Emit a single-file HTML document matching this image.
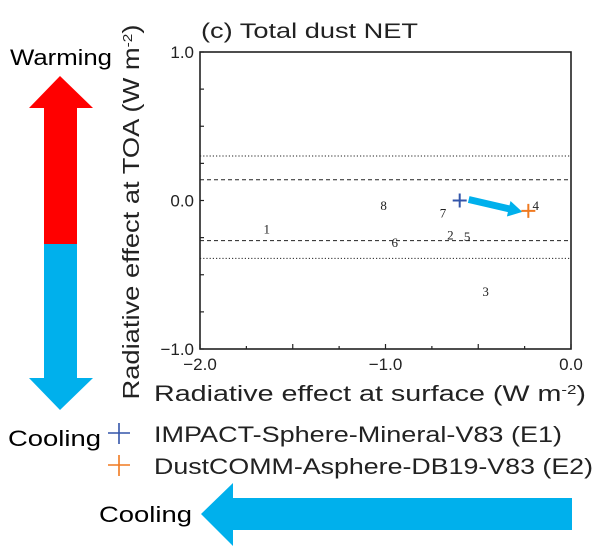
<!DOCTYPE html>
<html><head><meta charset="utf-8"><style>
body{margin:0;background:#fff;}
svg{display:block;font-family:"Liberation Sans",sans-serif;}
.num{font-family:"Liberation Serif",serif;font-size:13px;fill:#222;}
</style></head><body>
<svg width="600" height="552" viewBox="0 0 600 552">
<text x="10" y="65" font-size="22" textLength="102" lengthAdjust="spacingAndGlyphs" fill="#000">Warming</text>
<polygon points="60,76 93,108 77,108 77,244 44,244 44,108 29,108" fill="#ff0000"/>
<polygon points="44,244 77,244 77,378 93,378 60,410 29,378 44,378" fill="#00b0ec"/>
<text x="8" y="446" font-size="22" textLength="93" lengthAdjust="spacingAndGlyphs" fill="#000">Cooling</text>
<polygon points="201,514 233,483 233,498 572,498 572,530 233,530 233,546" fill="#00b0ec"/>
<text x="99" y="522" font-size="22" textLength="93" lengthAdjust="spacingAndGlyphs" fill="#000">Cooling</text>
<text x="201" y="38" font-size="21" textLength="217" lengthAdjust="spacingAndGlyphs" fill="#222">(c) Total dust NET</text>
<text transform="translate(139,212) rotate(-90)" font-size="23" text-anchor="middle" textLength="375" lengthAdjust="spacingAndGlyphs" fill="#222">Radiative effect at TOA (W m<tspan baseline-shift="super" font-size="13">-2</tspan>)</text>
<text x="154" y="401" font-size="22" textLength="432" lengthAdjust="spacingAndGlyphs" fill="#222">Radiative effect at surface (W m<tspan baseline-shift="super" font-size="13">-2</tspan>)</text>
<g id="plot"></g>
<path d="M108,433H130M119,423V444" stroke="#3355aa" stroke-width="1.6" fill="none"/>
<text x="154" y="442" font-size="22" textLength="408" lengthAdjust="spacingAndGlyphs" fill="#222">IMPACT-Sphere-Mineral-V83 (E1)</text>
<path d="M108,465H130M119,455V476" stroke="#f07a20" stroke-width="1.6" fill="none"/>
<text x="154" y="474" font-size="22" textLength="439" lengthAdjust="spacingAndGlyphs" fill="#222">DustCOMM-Asphere-DB19-V83 (E2)</text>
</svg>
<script>
const modelLabels=["1","2","3","4","5","6","7","8"];
const modelX=[-1.64,-0.65,-0.46,-0.19,-0.56,-0.95,-0.69,-1.01];
const modelY=[-0.19,-0.23,-0.61,-0.03,-0.24,-0.28,-0.08,-0.03];
const expNames=["E1","E2"];
const expX=[-0.6,-0.23];
const expY=[0.0,-0.07];
const refLevels=[0.30,0.14,-0.27,-0.39];
const refStyles=["dot","dash","dash","dot"];
const xTicks=[-2.0,-1.0,0.0];
const xTickLabels=["\u22122.0","\u22121.0","0.0"];
const yTicks=[1.0,0.0,-1.0];
const yTickLabels=["1.0","0.0","\u22121.0"];
const L=200,R=571,T=52,B=349;
const sx=v=>L+(v+2)/2*(R-L);
const sy=v=>B-(v+1)/2*(B-T);
const NS="http://www.w3.org/2000/svg";
const g=document.getElementById('plot');
function mk(t,a){const e=document.createElementNS(NS,t);for(const k in a)e.setAttribute(k,a[k]);g.appendChild(e);return e;}
refLevels.forEach((v,i)=>{
 const l=mk('line',{x1:L,x2:R,y1:sy(v),y2:sy(v),stroke:'#222','stroke-width':1,'stroke-dasharray':refStyles[i]==='dot'?'1.2,2':'4,3'});
 
 
});
for(let k=0;k<=8;k++){
 const v=-1+k*0.25;
 const t=mk('line',{x1:L,x2:L+4,y1:sy(v),y2:sy(v),stroke:'#222','stroke-width':1.2});
 
 
 const xv=-2+k*0.25;
 const t2=mk('line',{x1:sx(xv),x2:sx(xv),y1:B,y2:B-(k%2?3:5),stroke:'#222','stroke-width':1.2});
 
 
}
const ax=mk('rect',{x:L,y:T,width:R-L,height:B-T,fill:'none',stroke:'#222','stroke-width':1.6});


xTicks.forEach((v,i)=>{const t=mk('text',{x:sx(v),y:B+21,'font-size':17,'text-anchor':'middle',fill:'#222'});t.textContent=xTickLabels[i];
 
 });
yTicks.forEach((v,i)=>{const t=mk('text',{x:L-6,y:sy(v)+6,'font-size':17,'text-anchor':'end',fill:'#222'});t.textContent=yTickLabels[i];
 
 });
modelLabels.forEach((s,i)=>{const t=mk('text',{x:sx(modelX[i]),y:sy(modelY[i])+5,'text-anchor':'middle',class:'num'});t.textContent=s;
 
 });
const x1=sx(expX[0])+9,y1=sy(expY[0])-1,x2=sx(expX[1])-6,y2=sy(expY[1])+1;
const dx=x2-x1,dy=y2-y1,len=Math.hypot(dx,dy),ux=dx/len,uy=dy/len,px=-uy,py=ux;
const hb=len-14;
const pts=[[0,-3.5],[hb,-3.5],[hb,-8],[len,0],[hb,8],[hb,3.5],[0,3.5]].map(([a,b])=>(x1+ux*a+px*b)+','+(y1+uy*a+py*b)).join(' ');
const ar=mk('polygon',{points:pts,fill:'#00b0ec'});


const cols=['#3355aa','#f07a20'];
expNames.forEach((n,i)=>{const cx=sx(expX[i]),cy=sy(expY[i]);
 const p=mk('path',{d:`M${cx-7},${cy}H${cx+7}M${cx},${cy-7}V${cy+7}`,stroke:cols[i],'stroke-width':2,fill:'none'});
 
 });
</script>
</body></html>
